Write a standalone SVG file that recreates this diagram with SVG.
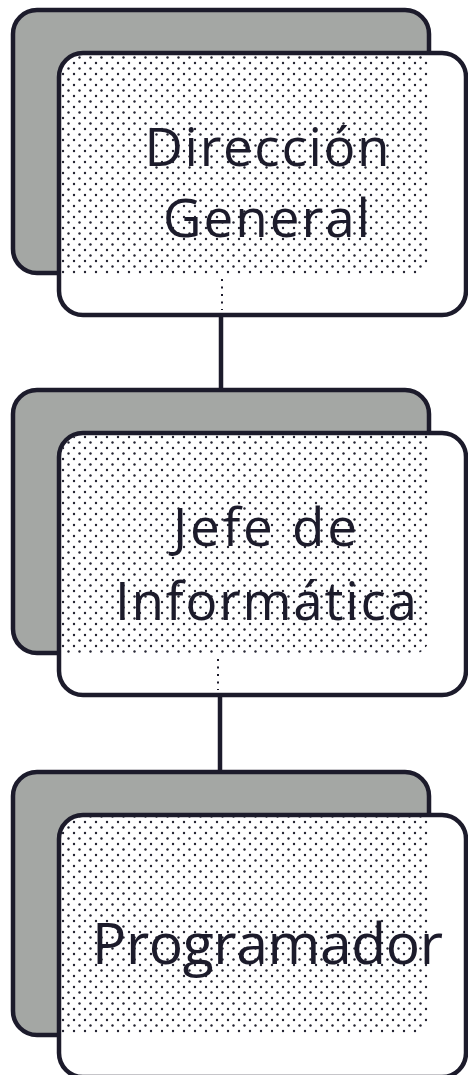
<svg xmlns="http://www.w3.org/2000/svg" width="468" height="1075" viewBox="0 0 468 1075">
<defs>
<style>
.back{fill:#a4a7a4;stroke:#1c1b2b;stroke-width:4.5}
.front{fill:#ffffff;stroke:#1c1b2b;stroke-width:4.5}
.dots{fill:url(#dotpat)}
.lbl{font-family:"Open Sans","Noto Sans","Liberation Sans",sans-serif;font-weight:500;fill:#1c1b2b;text-anchor:middle}
.conn{stroke:#1c1b2b;stroke-width:4.5;fill:none}
.dconn{stroke:#1c1b2b;stroke-width:2;fill:none;stroke-dasharray:2 5.5}
</style>
<pattern id="dotpat" width="11" height="11" patternUnits="userSpaceOnUse">
<circle cx="2.5" cy="2.5" r="1.2" fill="#222230"/>
<circle cx="8" cy="8" r="1.2" fill="#222230"/>
</pattern>
<clipPath id="c1"><rect x="61" y="55" width="403" height="258" rx="22"/></clipPath>
<clipPath id="c2"><rect x="61" y="435" width="403" height="258" rx="22"/></clipPath>
<clipPath id="c3"><rect x="61" y="817" width="403" height="258" rx="22"/></clipPath>
</defs>
<rect width="468" height="1075" fill="#ffffff"/>
<g id="connectors">
<line class="conn" x1="221" y1="314" x2="221" y2="391"/>
<line class="conn" x1="220" y1="695" x2="220" y2="773"/>
</g>
<g id="node-direccion">
<rect class="back" x="13" y="10" width="416" height="263" rx="24"/>
<rect class="front" x="59" y="53" width="407" height="262" rx="24"/>
<rect class="dots" x="30" y="30" width="400" height="245" rx="20" clip-path="url(#c1)"/>
<line class="dconn" x1="222" y1="279" x2="222" y2="310"/>
<text class="lbl" x="267" y="166" font-size="53" textLength="245" lengthAdjust="spacing">Dirección</text>
<text class="lbl" x="266.5" y="237" font-size="53" textLength="207" lengthAdjust="spacing">General</text>
</g>
<g id="node-jefe">
<rect class="back" x="13" y="390" width="416" height="263" rx="24"/>
<rect class="front" x="59" y="433" width="407" height="262" rx="24"/>
<rect class="dots" x="30" y="410" width="400" height="245" rx="20" clip-path="url(#c2)"/>
<line class="dconn" x1="218" y1="659" x2="218" y2="690"/>
<text class="lbl" x="265" y="546" font-size="53" textLength="184" lengthAdjust="spacing">Jefe de</text>
<text class="lbl" x="266" y="620" font-size="53" textLength="302" lengthAdjust="spacing">Informática</text>
</g>
<g id="node-programador">
<rect class="back" x="13" y="772" width="416" height="263" rx="24"/>
<rect class="front" x="59" y="815" width="407" height="262" rx="24"/>
<rect class="dots" x="30" y="792" width="398" height="243" rx="20" clip-path="url(#c3)"/>
<text class="lbl" x="267.5" y="964" font-size="57" textLength="351" lengthAdjust="spacing">Programador</text>
</g>
</svg>
